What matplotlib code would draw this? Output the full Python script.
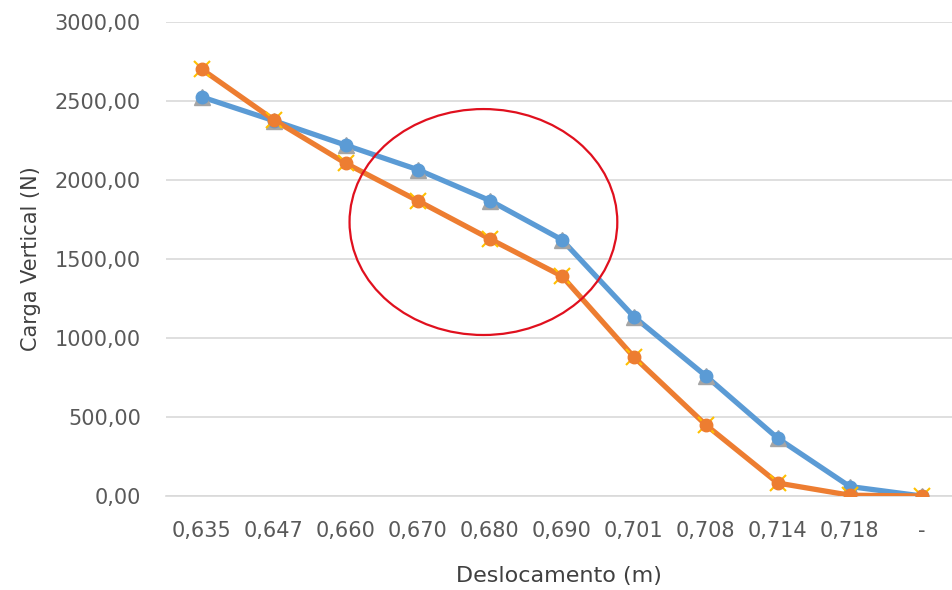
import matplotlib
matplotlib.use("Agg")
import matplotlib.pyplot as plt
from matplotlib.patches import Ellipse

categories = ["0,635", "0,647", "0,660", "0,670", "0,680", "0,690", "0,701", "0,708", "0,714", "0,718", "-"]
serie_azul = [2525, 2375, 2220, 2065, 1870, 1622, 1135, 760, 365, 60, 0]
serie_laranja = [2700, 2380, 2105, 1868, 1627, 1392, 880, 450, 82, 5, 0]
y_ticks = [0, 500, 1000, 1500, 2000, 2500, 3000]
y_tick_labels = ["0,00", "500,00", "1000,00", "1500,00", "2000,00", "2500,00", "3000,00"]

plt.rcParams['font.family'] = ['DejaVu Sans']
text_color = "#595959"

fig = plt.figure(figsize=(9.52, 5.90), dpi=100)
ax = fig.add_axes([166/952, 94/590, 786/952, 474/590])

x = list(range(len(categories)))
blue = "#5B9BD5"
orange = "#ED7D31"

ax.plot(x, serie_azul, color=blue, lw=3.8, zorder=3, solid_capstyle="round")
ax.plot(x, serie_azul, ls="none", marker="^", ms=11, color="#A5A5A5", zorder=4)
ax.plot(x, serie_azul, ls="none", marker="o", ms=9, color=blue, zorder=5)

ax.plot(x, serie_laranja, color=orange, lw=3.8, zorder=6, solid_capstyle="round")
ax.plot(x, serie_laranja, ls="none", marker="x", ms=12, mew=1.5, color="#FFC000", zorder=7)
ax.plot(x, serie_laranja, ls="none", marker="o", ms=9, color=orange, zorder=8)

ell = Ellipse((3.91, 1734), width=3.72, height=1430, fill=False, edgecolor="#E0101E", lw=1.6, zorder=9)
ax.add_patch(ell)

ax.set_xlim(-0.5, 10.42)
ax.set_ylim(0, 3000)
ax.set_yticks(y_ticks)
ax.set_yticklabels(y_tick_labels)
ax.set_xticks(x)
ax.set_xticklabels(categories)
ax.yaxis.grid(True, color="#D9D9D9", lw=1.2)
ax.set_axisbelow(True)
for s in ["top", "right", "left"]:
    ax.spines[s].set_visible(False)
ax.spines["bottom"].set_color("#D9D9D9")
ax.spines["bottom"].set_linewidth(1.2)
ax.tick_params(axis="both", length=0, labelsize=15, colors=text_color)
ax.tick_params(axis="y", pad=18)
ax.tick_params(axis="x", pad=18)
ax.set_xlabel("Deslocamento (m)", fontsize=16, color="#404040", labelpad=18)
ax.set_ylabel("Carga Vertical (N)", fontsize=15, color="#404040", labelpad=10)

fig.savefig("out.png", dpi=100)
